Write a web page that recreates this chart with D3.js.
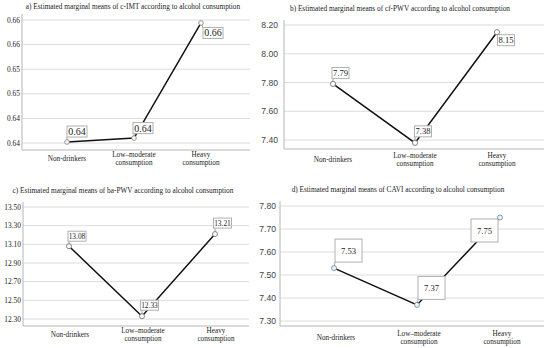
<!DOCTYPE html>
<html>
<head>
<meta charset="utf-8">
<script src="https://cdn.jsdelivr.net/npm/d3@7"></script>
<style>
  body { margin: 0; background: #fff; }
</style>
</head>
<body>
<div id="chart"></div>
<script>
// categories shared by the four panels
const categories = ["Non-drinkers", "Low–moderate consumption", "Heavy consumption"];

// a) c-IMT
const cimtMeans = [0.6352, 0.6360, 0.6594];
const cimtTicks = [0.635, 0.640, 0.645, 0.650, 0.655, 0.660];
const cimtTickLabels = ["0.64", "0.64", "0.65", "0.65", "0.66", "0.66"];

// b) cf-PWV
const cfpwvMeans = [7.79, 7.38, 8.15];
const cfpwvTicks = [7.40, 7.60, 7.80, 8.00, 8.20];
const cfpwvTickLabels = ["7.40", "7.60", "7.80", "8.00", "8.20"];

// c) ba-PWV
const bapwvMeans = [13.08, 12.33, 13.21];
const bapwvTicks = [12.30, 12.50, 12.70, 12.90, 13.10, 13.30, 13.50];
const bapwvTickLabels = ["12.30", "12.50", "12.70", "12.90", "13.10", "13.30", "13.50"];

// d) CAVI
const caviMeans = [7.53, 7.37, 7.75];
const caviTicks = [7.30, 7.40, 7.50, 7.60, 7.70, 7.80];
const caviTickLabels = ["7.30", "7.40", "7.50", "7.60", "7.70", "7.80"];

const serif = "'Liberation Serif', 'Times New Roman', serif";
const sans = "'Liberation Sans', Arial, sans-serif";

const svg = d3.select("#chart")
  .append("svg")
    .attr("width", 550)
    .attr("height", 348);

function drawPanel(cfg)
{
  const g = svg.append("g");

  const x = d3.scalePoint()
      .domain(categories)
      .range([cfg.xFirst, cfg.xLast]);

  const y = d3.scaleLinear()
      .domain([cfg.ticks[0], cfg.ticks[cfg.ticks.length - 1]])
      .range([cfg.yLow, cfg.yHigh]);

  // title
  g.append("text")
    .attr("x", cfg.titleX)
    .attr("y", cfg.titleY)
    .attr("text-anchor", "middle")
    .attr("font-family", serif)
    .attr("font-size", 7.3)
    .attr("fill", "#222")
    .text(cfg.title);

  // gridlines
  g.append("g")
    .selectAll("line")
    .data(cfg.ticks)
    .join("line")
      .attr("x1", cfg.left)
      .attr("x2", cfg.right)
      .attr("y1", d => y(d))
      .attr("y2", d => y(d))
      .attr("stroke", "#dcdcdc")
      .attr("stroke-width", 1);

  // axis lines
  g.append("line")
    .attr("x1", cfg.left).attr("x2", cfg.left)
    .attr("y1", cfg.axisTop).attr("y2", cfg.bottom)
    .attr("stroke", "#b5b5b5");
  g.append("line")
    .attr("x1", cfg.left).attr("x2", cfg.right)
    .attr("y1", cfg.bottom).attr("y2", cfg.bottom)
    .attr("stroke", "#b5b5b5");

  // y tick labels
  g.append("g")
    .selectAll("text")
    .data(cfg.ticks)
    .join("text")
      .attr("x", cfg.tickX)
      .attr("y", d => y(d))
      .attr("dy", "0.35em")
      .attr("text-anchor", "end")
      .attr("font-family", cfg.tickFont === "sans" ? sans : serif)
      .attr("font-size", cfg.tickFont === "sans" ? 8.6 : 7.4)
      .attr("fill", cfg.tickFont === "sans" ? "#444" : "#222")
      .text((d, i) => cfg.tickLabels[i]);

  // category labels
  const cat = g.append("g")
    .selectAll("text")
    .data(categories)
    .join("text")
      .attr("x", d => x(d) + cfg.catShift)
      .attr("y", cfg.catY)
      .attr("text-anchor", "middle")
      .attr("font-family", serif)
      .attr("font-size", 7.2)
      .attr("fill", "#222");
  cat.each(function(d) {
    const parts = d.split(" ");
    const lines = parts.length > 1 ? [parts[0], parts.slice(1).join(" ")] : [d];
    const t = d3.select(this);
    const y0 = lines.length > 1 ? -4 : 0;
    lines.forEach((l, i) => {
      t.append("tspan")
        .attr("x", x(d) + cfg.catShift)
        .attr("y", cfg.catY + y0 + i * 8.5)
        .attr("dy", "0.35em")
        .text(l);
    });
  });

  const pts = cfg.values.map((v, i) => ({cat: categories[i], v: v, px: x(categories[i]), py: y(v), off: cfg.labelOffsets[i]}));

  // connecting line
  g.append("path")
    .datum(pts)
    .attr("fill", "none")
    .attr("stroke", "#111")
    .attr("stroke-width", 1.5)
    .attr("d", d3.line().x(d => d.px).y(d => d.py));

  // value labels in boxes, with leader lines
  const lab = g.append("g")
    .selectAll("g")
    .data(pts)
    .join("g");

  lab.each(function(d) {
    const el = d3.select(this);
    const cx = d.px + d.off[0];
    const cy = d.py + d.off[1];
    const w = cfg.boxW, h = cfg.boxH;
    // leader to closest corner
    const lx = Math.max(cx - w / 2, Math.min(d.px, cx + w / 2));
    const ly = d.py < cy ? cy - h / 2 : cy + h / 2;
    el.append("line")
      .attr("x1", d.px).attr("y1", d.py)
      .attr("x2", lx).attr("y2", ly)
      .attr("stroke", "#888")
      .attr("stroke-width", 0.8);
    el.append("rect")
      .attr("x", cx - w / 2)
      .attr("y", cy - h / 2)
      .attr("width", w)
      .attr("height", h)
      .attr("fill", "#fff")
      .attr("stroke", "#b0b0b0")
      .attr("stroke-width", 1);
    el.append("text")
      .attr("x", cx)
      .attr("y", cy)
      .attr("dy", "0.35em")
      .attr("text-anchor", "middle")
      .attr("font-family", serif)
      .attr("font-size", cfg.labelSize)
      .attr("fill", "#222")
      .text(d3.format(".2f")(d.v));
  });

  // markers
  g.append("g")
    .selectAll("circle")
    .data(pts)
    .join("circle")
      .attr("cx", d => d.px)
      .attr("cy", d => d.py)
      .attr("r", cfg.r)
      .attr("fill", cfg.markerFill)
      .attr("stroke", cfg.markerStroke)
      .attr("stroke-width", 0.9);
}

drawPanel({
  title: "a) Estimated marginal means of c-IMT according to alcohol consumption",
  titleX: 133, titleY: 9,
  values: cimtMeans, ticks: cimtTicks, tickLabels: cimtTickLabels, tickFont: "serif",
  left: 22, right: 250, axisTop: 14, bottom: 150,
  yLow: 143, yHigh: 20, tickX: 20,
  xFirst: 67, xLast: 201, catShift: 0, catY: 158,
  labelOffsets: [[10, -10.5], [9, -10], [12, 10]],
  boxW: 20, boxH: 11, labelSize: 10,
  r: 2.3, markerFill: "#fff", markerStroke: "#888"
});

drawPanel({
  title: "b) Estimated marginal means of cf-PWV according to alcohol consumption",
  titleX: 400, titleY: 11,
  values: cfpwvMeans, ticks: cfpwvTicks, tickLabels: cfpwvTickLabels, tickFont: "sans",
  left: 284, right: 544, axisTop: 20, bottom: 149,
  yLow: 140, yHigh: 25, tickX: 278,
  xFirst: 333, xLast: 497, catShift: 0, catY: 159,
  labelOffsets: [[7.5, -11], [8, -11.5], [9, 8]],
  boxW: 17, boxH: 11, labelSize: 8.6,
  r: 2.6, markerFill: "#fff", markerStroke: "#777"
});

drawPanel({
  title: "c) Estimated marginal means of ba-PWV according to alcohol consumption",
  titleX: 123, titleY: 193,
  values: bapwvMeans, ticks: bapwvTicks, tickLabels: bapwvTickLabels, tickFont: "serif",
  left: 23, right: 249, axisTop: 202, bottom: 326,
  yLow: 319, yHigh: 207, tickX: 21,
  xFirst: 69, xLast: 215, catShift: 1, catY: 334,
  labelOffsets: [[8, -10], [7.5, -11], [7.5, -11]],
  boxW: 18, boxH: 10, labelSize: 7.4,
  r: 2.5, markerFill: "#fff", markerStroke: "#777"
});

drawPanel({
  title: "d)  Estimated marginal means of CAVI according to alcohol consumption",
  titleX: 398, titleY: 192,
  values: caviMeans, ticks: caviTicks, tickLabels: caviTickLabels, tickFont: "sans",
  left: 280, right: 544, axisTop: 201, bottom: 326,
  yLow: 321, yHigh: 206, tickX: 276,
  xFirst: 334, xLast: 500, catShift: 2, catY: 337,
  labelOffsets: [[14.5, -17.5], [14.5, -17], [-15.5, 13]],
  boxW: 27, boxH: 23, labelSize: 8.6,
  r: 2.5, markerFill: "#eef3f7", markerStroke: "#6f8fa8"
});
</script>
</body>
</html>
